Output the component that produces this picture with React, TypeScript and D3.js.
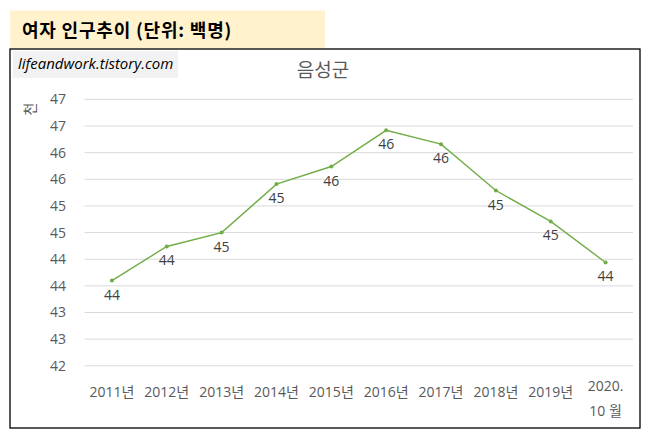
import * as d3 from 'd3';
import * as React from 'react';

const categories = ['2011년', '2012년', '2013년', '2014년', '2015년', '2016년', '2017년', '2018년', '2019년', '2020.10 월'];
const values = [43.6, 44.24, 44.5, 45.41, 45.74, 46.42, 46.16, 45.29, 44.71, 43.94];
const yTicks = [42, 42.5, 43, 43.5, 44, 44.5, 45, 45.5, 46, 46.5, 47];

const WIDTH = 648;
const HEIGHT = 437;
const FONT = '"Open Sans", "Noto Sans CJK KR", sans-serif';
const LINE_COLOR = '#70ad47';

const App = () => {
  const x = d3.scaleBand<string>().domain(categories).range([84.5, 633]);
  const y = d3.scaleLinear().domain([42, 47]).range([365.8, 99.4]);
  const cx = (c: string) => (x(c) ?? 0) + x.bandwidth() / 2;

  const line = d3
    .line<number>()
    .x((_, i) => cx(categories[i]))
    .y((d) => y(d));

  const fmt = (v: number) => String(Math.round(v));

  return (
    <svg
      width={WIDTH}
      height={HEIGHT}
      style={{ position: 'absolute', left: 0, top: 0, background: '#fff' }}
      fontFamily={FONT}
    >
      {/* header banner */}
      <rect x={10} y={10.5} width={315} height={38} fill="#fff2cc" />
      <text x={22} y={37} fontSize={18} fontWeight="bold" fill="#000" letterSpacing={0.8}
        fontFamily='"Noto Sans CJK KR", sans-serif'>
        여자 인구추이 (단위: 백명)
      </text>

      {/* chart frame */}
      <rect x={10} y={49} width={630} height={379} fill="#fff" stroke="#000" strokeWidth={1.3} />

      {/* watermark */}
      <rect x={13} y={51} width={165} height={27} fill="#f2f2f2" />
      <text x={18} y={69} fontSize={15} fontStyle="italic" fill="#000" fontFamily="'Open Sans', sans-serif">
        lifeandwork.tistory.com
      </text>

      {/* chart title */}
      <text x={323} y={77} fontSize={19} fill="#595959" textAnchor="middle">
        음성군
      </text>

      {/* axis title */}
      <text
        transform="translate(35,109) rotate(-90)"
        fontSize={14}
        fill="#595959"
        textAnchor="middle"
      >
        천
      </text>

      {/* gridlines + y labels */}
      {yTicks.map((t) => (
        <g key={t}>
          <line x1={84.5} x2={633} y1={y(t)} y2={y(t)} stroke="#d9d9d9" strokeWidth={1} />
          <text x={66} y={y(t)} dy="0.35em" fontSize={14} fill="#595959" textAnchor="end">
            {fmt(t)}
          </text>
        </g>
      ))}

      {/* x labels */}
      {categories.map((c) => {
        const parts = c.includes('.') ? [c.slice(0, 5), c.slice(5)] : [c];
        return (
          <text key={c} x={cx(c)} y={parts.length > 1 ? 391 : 397} fontSize={14} fill="#595959" textAnchor="middle">
            {parts.map((p, i) => (
              <tspan key={i} x={cx(c)} dy={i === 0 ? 0 : 25}>
                {p}
              </tspan>
            ))}
          </text>
        );
      })}

      {/* series */}
      <path d={line(values) ?? ''} fill="none" stroke={LINE_COLOR} strokeWidth={1.4} />
      {values.map((v, i) => (
        <circle key={i} cx={cx(categories[i])} cy={y(v)} r={2} fill={LINE_COLOR} />
      ))}
      {values.map((v, i) => (
        <text key={i} x={cx(categories[i])} y={y(v) + 19} fontSize={14} fill="#404040" textAnchor="middle">
          {fmt(v)}
        </text>
      ))}
    </svg>
  );
};

export default App;
